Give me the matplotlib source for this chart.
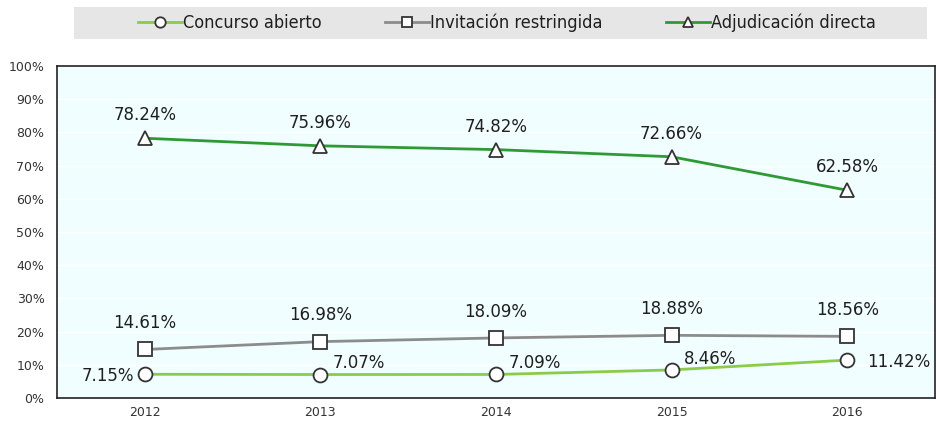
import matplotlib
matplotlib.use("Agg")
import matplotlib.pyplot as plt
from matplotlib.patches import Rectangle
from matplotlib.ticker import PercentFormatter

years = ["2012", "2013", "2014", "2015", "2016"]
concurso = [7.15, 7.07, 7.09, 8.46, 11.42]
invitacion = [14.61, 16.98, 18.09, 18.88, 18.56]
adjudicacion = [78.24, 75.96, 74.82, 72.66, 62.58]

W, H = 937, 421
fig = plt.figure(figsize=(W / 100, H / 100), dpi=100)
ax = fig.add_axes([57 / W, 1 - 398 / H, 878 / W, 332 / H])
ax.set_facecolor("#F0FEFF")

x = range(len(years))
mk = dict(markersize=10, markerfacecolor="white", markeredgecolor="#333333", markeredgewidth=1.3)
l1, = ax.plot(x, concurso, color="#8CCB4A", lw=2, marker="o", label="Concurso abierto", **mk)
l2, = ax.plot(x, invitacion, color="#8C8C8C", lw=2, marker="s", label="Invitación restringida", **mk)
l3, = ax.plot(x, adjudicacion, color="#2F9A35", lw=2, marker="^", label="Adjudicación directa", **mk)

lab = dict(fontsize=12, color="#1F1F1F", family="DejaVu Sans", va="center")
for i, v in enumerate(adjudicacion):
    ax.annotate(f"{v:.2f}%", (i, v), xytext=(0, 16.5), textcoords="offset points", ha="center", **lab)
for i, v in enumerate(invitacion):
    ax.annotate(f"{v:.2f}%", (i, v), xytext=(0, 19), textcoords="offset points", ha="center", **lab)
offs = [(-8, -1.5, "right"), (9, 8, "left"), (9, 8, "left"), (9, 8, "left"), (14, -1.5, "left")]
for i, v in enumerate(concurso):
    dx, dy, ha = offs[i]
    ax.annotate(f"{v:.2f}%", (i, v), xytext=(dx, dy), textcoords="offset points", ha=ha, **lab)

ax.set_xlim(-0.5, 4.5)
ax.set_ylim(0, 100)
ax.set_yticks(range(0, 101, 10))
ax.yaxis.set_major_formatter(PercentFormatter(decimals=0))
ax.set_xticks(list(x))
ax.set_xticklabels(years)
ax.tick_params(length=0, labelsize=9, colors="#333333")
ax.tick_params(axis="y", pad=9)
ax.tick_params(axis="x", pad=6)
ax.grid(axis="y", color="white", lw=1)
for s in ax.spines.values():
    s.set_color("#222222")
    s.set_linewidth(1.2)

# legend band
fig.patches.append(Rectangle((74 / W, 1 - 39 / H), 853 / W, 32 / H, transform=fig.transFigure,
                             facecolor="#E6E6E6", edgecolor="none", zorder=0))
leg = fig.legend(handles=[l1, l2, l3], loc="center left", bbox_to_anchor=(138 / W, 1 - 23 / H), ncol=3,
                 frameon=False, fontsize=13, handlelength=2.45, handletextpad=0.05,
                 columnspacing=3.5, markerscale=0.75, borderpad=0, borderaxespad=0)
for t in leg.get_texts():
    t.set_fontstretch("condensed")
    t.set_color("#1F1F1F")

fig.savefig("out.png", dpi=100)
